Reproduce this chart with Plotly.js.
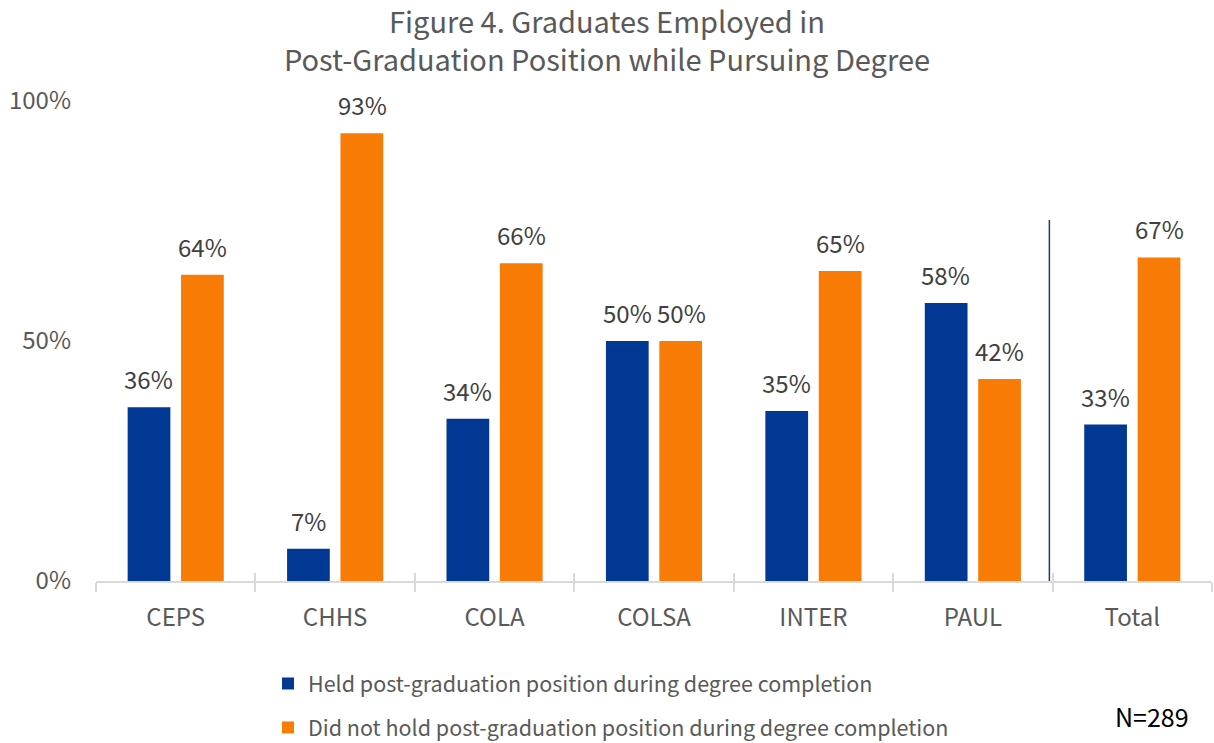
<!DOCTYPE html>
<html>
<head>
<meta charset="utf-8">
<script src="https://cdn.plot.ly/plotly-3.0.1.min.js"></script>
<style>
  html, body { margin: 0; padding: 0; background: #fff; }
  #chart { width: 1214px; height: 743px; }
</style>
</head>
<body>
<div id="chart"></div>
<script>
// data
const colleges = ["CEPS", "CHHS", "COLA", "COLSA", "INTER", "PAUL", "Total"];
const heldPos = [0.362, 0.067, 0.338, 0.50, 0.354, 0.579, 0.326];
const notHeldPos = [0.638, 0.933, 0.662, 0.50, 0.646, 0.421, 0.674];
const seriesNames = [
  "Held post-graduation position during degree completion",
  "Did not hold post-graduation position during degree completion"
];
const sampleNote = "N=289";

const fontFam = '"Noto Sans CJK SC", "Source Sans Pro", Lato, sans-serif';
const blue = "#003893";
const orange = "#F77B05";

let traces = [
  {
    type: "bar", x: colleges, y: heldPos, name: seriesNames[0],
    marker: {color: blue}, legendgroup: "a", hoverinfo: "skip"
  },
  {
    type: "bar", x: colleges, y: notHeldPos, name: seriesNames[1],
    marker: {color: orange}, legendgroup: "b", hoverinfo: "skip"
  },
  // invisible trace so the overlay axis (inside half of the cross ticks) gets drawn
  {
    type: "scatter", mode: "markers", x: colleges, y: colleges.map(() => 0),
    xaxis: "x2", marker: {opacity: 0}, showlegend: false, hoverinfo: "skip"
  }
];

// data labels above each bar
let annos = [];
function addLabels(vals, shift) {
  vals.forEach((v, i) => {
    annos.push({
      x: colleges[i], y: v, xref: "x", yref: "y",
      text: Math.round(v * 100) + "%",
      showarrow: false, xshift: shift, yshift: 9, yanchor: "bottom",
      font: {family: fontFam, size: 24, color: "#404040"}
    });
  });
}
addLabels(heldPos, -27);
addLabels(notHeldPos, 27);

// sample size note, bottom right
annos.push({
  x: (1152 - 96) / 1116, y: (581 - 716) / 480, xref: "paper", yref: "paper",
  xanchor: "center", yanchor: "middle",
  text: sampleNote, showarrow: false,
  font: {family: fontFam, size: 25, color: "#000"}
});

const layout = {
  width: 1214, height: 743,
  margin: {l: 96, r: 2, t: 101, b: 162, autoexpand: false},
  paper_bgcolor: "#fff", plot_bgcolor: "#fff",
  font: {family: fontFam, color: "#595959"},
  title: {
    text: "Figure 4. Graduates Employed in<br>Post-Graduation Position while Pursuing Degree",
    x: 0.5, xref: "container", y: 0.955, yref: "container", yanchor: "top",
    font: {family: fontFam, size: 29, color: "#595959"}
  },
  barmode: "group",
  bargap: 0.33,
  bargroupgap: 0.2,
  xaxis: {
    type: "category",
    showline: true, linecolor: "#d9d9d9", linewidth: 2,
    ticks: "outside", tickson: "boundaries", ticklen: 9, tickwidth: 2, tickcolor: "#d9d9d9",
    tickfont: {family: fontFam, size: 24, color: "#595959"},
    ticklabelstandoff: 14, tickangle: 0, automargin: false,
    range: [-0.5, 6.5], fixedrange: true
  },
  xaxis2: {
    type: "category", overlaying: "x", anchor: "y", side: "bottom",
    ticks: "inside", tickson: "boundaries", ticklen: 8, tickwidth: 2, tickcolor: "#d9d9d9",
    showticklabels: false, showline: false, showgrid: false,
    range: [-0.5, 6.5], fixedrange: true
  },
  yaxis: {
    range: [0, 1], dtick: 0.5, tickformat: ".0%",
    showgrid: false, zeroline: false, showline: false,
    tickfont: {family: fontFam, size: 24, color: "#595959"},
    ticklabelstandoff: 24, automargin: false, fixedrange: true
  },
  shapes: [
    {
      type: "line", xref: "x", yref: "y",
      x0: 5.48, x1: 5.48, y0: 0, y1: 0.752,
      line: {color: "#1F3A73", width: 1.5}
    }
  ],
  showlegend: true,
  legend: {
    x: (268 - 96) / 1116, xanchor: "left",
    y: (581 - 663) / 480, yanchor: "top",
    orientation: "v", tracegroupgap: 13,
    font: {family: fontFam, size: 21.5, color: "#595959"},
    bgcolor: "rgba(0,0,0,0)"
  },
  annotations: annos
};

Plotly.newPlot("chart", traces, layout, {displayModeBar: false, staticPlot: true});
</script>
</body>
</html>
